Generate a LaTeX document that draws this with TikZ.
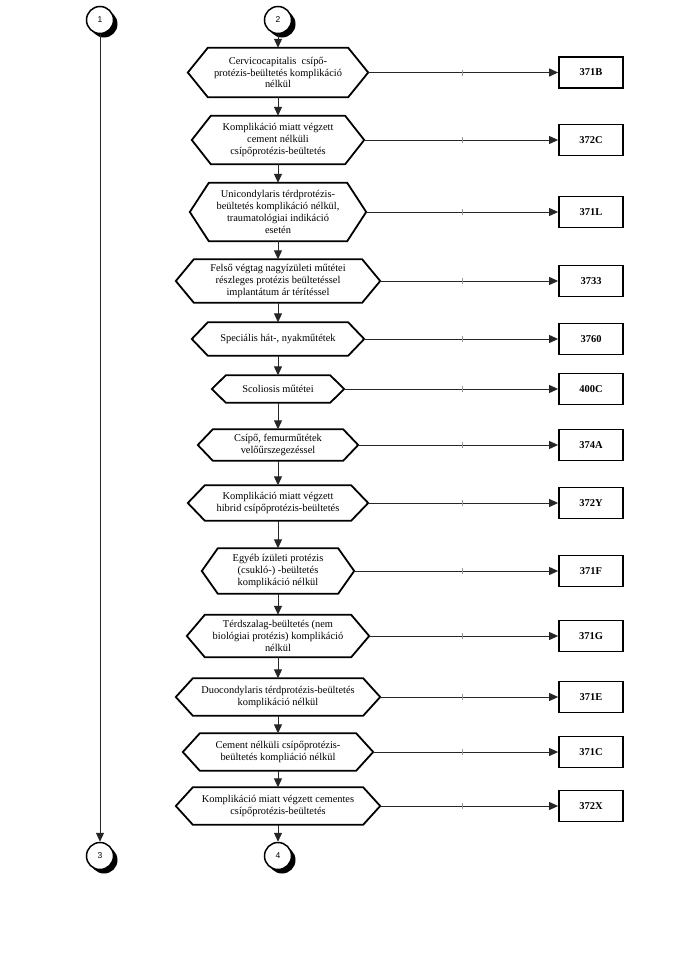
\documentclass[tikz,border=0pt]{standalone}
\usepackage{fontspec}
\setmainfont{Liberation Serif}
\newfontfamily\numfont{Liberation Sans}
\usetikzlibrary{calc,arrows.meta,shadows}

\tikzset{
 hexbox/.style={inner sep=0pt, align=center, font=\fontsize{10.4}{11.8}\selectfont},
 hexline/.style={line width=1.8pt, line join=miter},
 codebox/.style={draw, line width=1.8pt, minimum width=64pt, minimum height=31pt, inner sep=0pt, font=\fontsize{10.5}{12}\selectfont\bfseries},
 conn/.style={line width=1pt, draw=black!85, -{Triangle[length=9pt,width=8pt]}},
 tickmark/.style={line width=0.9pt, draw=black!40},
 conncircle/.style={circle, draw, line width=1.5pt, fill=white, minimum size=27pt, inner sep=0pt, font=\numfont\fontsize{8.5}{9}\selectfont, drop shadow={shadow xshift=4pt, shadow yshift=-4pt, fill=black, opacity=1}},
}

% name, cy, width, height, slant, text
\newcommand\hexagonbox[6]{%
 \node[hexbox, minimum width=#3pt, minimum height=#4pt] (#1) at (278,#2) {#6};
 \draw[hexline] (#1.west) -- ($(#1.north west)+(#5,0)$) -- ($(#1.north east)+(-#5,0)$) -- (#1.east) -- ($(#1.south east)+(-#5,0)$) -- ($(#1.south west)+(#5,0)$) -- cycle;
}

\begin{document}
\begin{tikzpicture}[x=1pt,y=-1pt]
\useasboundingbox[fill=white] (0,0) rectangle (690,972);

\node[conncircle] (c1) at (100,20) {1};
\node[conncircle] (c2) at (278,20) {2};
\node[conncircle] (c3) at (100,856) {3};
\node[conncircle] (c4) at (278,856) {4};

\hexagonbox{h1}{72.5}{180}{49}{20}{Cervicocapitalis\ \ csípő-\\protézis-beültetés komplikáció\\nélkül}
\hexagonbox{h2}{140}{172}{48}{19}{Komplikáció miatt végzett\\cement nélküli\\csípőprotézis-beültetés}
\hexagonbox{h3}{212}{176}{58}{19}{Unicondylaris térdprotézis-\\beültetés komplikáció nélkül,\\traumatológiai indikáció\\esetén}
\hexagonbox{h4}{281}{204}{43}{18}{Felső végtag nagyízületi műtétei\\részleges protézis beültetéssel\\implantátum ár térítéssel}
\hexagonbox{h5}{339}{172}{33}{16}{Speciális hát-, nyakműtétek}
\hexagonbox{h6}{389}{132}{27}{14}{Scoliosis műtétei}
\hexagonbox{h7}{445}{160}{31}{15}{Csípő, femurműtétek\\velőűrszegezéssel}
\hexagonbox{h8}{503}{180}{35}{17}{Komplikáció miatt végzett\\hibrid csípőprotézis-beültetés}
\hexagonbox{h9}{571}{152}{45}{16}{Egyéb ízületi protézis\\(csukló-) -beültetés\\komplikáció nélkül}
\hexagonbox{h10}{636}{182}{42}{18}{Térdszalag-beültetés (nem\\biológiai protézis) komplikáció\\nélkül}
\hexagonbox{h11}{697}{204}{37}{17}{Duocondylaris térdprotézis-beültetés\\komplikáció nélkül}
\hexagonbox{h12}{752}{190}{37}{17}{Cement nélküli csípőprotézis-\\beültetés kompliáció nélkül}
\hexagonbox{h13}{806}{204}{37}{17}{Komplikáció miatt végzett cementes\\csípőprotézis-beültetés}

\coordinate (tickx) at (462,0);
\foreach \i/\code/\cy in {1/371B/72.5, 2/372C/140, 3/371L/212, 4/3733/281, 5/3760/339, 6/400C/389, 7/374A/445, 8/372Y/503, 9/371F/571, 10/371G/636, 11/371E/697, 12/371C/752, 13/372X/806}{
 \node[codebox] (b\i) at (591,\cy) {\code};
 \draw[conn] (h\i) -- (b\i);
 \draw[tickmark] ($(tickx |- h\i.east)+(0,-3)$) -- ++(0,6);
}

\draw[conn] (c1) -- (c3);
\draw[conn] (c2) -- (h1);
\foreach \a/\b in {1/2,2/3,3/4,4/5,5/6,6/7,7/8,8/9,9/10,10/11,11/12,12/13}{
 \draw[conn] (h\a) -- (h\b);
}
\draw[conn] (h13) -- (c4);
\end{tikzpicture}
\end{document}
